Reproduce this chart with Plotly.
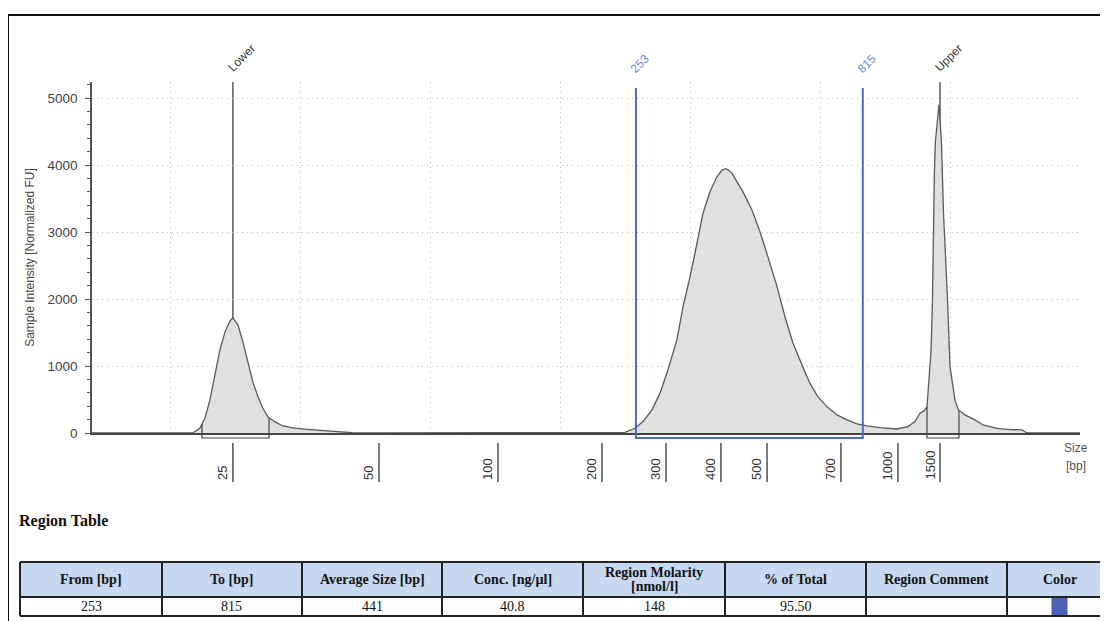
import numpy as np
import plotly.graph_objects as go

# ---------------- data ----------------
# migration position (arbitrary units, grid every 100) and sample intensity [FU]
position = [-60.8, 16.9, 22.3, 26.2, 30.0, 33.9, 37.7, 41.6, 45.4, 47.7, 51.6, 55.4, 59.3, 63.1,
            67.0, 70.8, 74.7, 80.1, 86.2, 93.9, 104.7, 117.0, 130.1, 135.5, 139.4, 153.2, 341.9,
            349.6, 357.3, 363.5, 370.4, 376.6, 382.7, 389.6, 394.3, 399.7, 405.1, 409.7, 415.1,
            420.4, 424.3, 427.4, 429.7, 432.0, 435.9, 440.5, 447.4, 453.6, 459.7, 466.7, 472.8,
            479.0, 485.9, 492.1, 498.2, 505.2, 512.9, 520.6, 528.3, 536.0, 546.0, 559.1, 567.5,
            572.9, 576.8, 579.9, 582.2, 583.7, 585.3, 586.4, 587.0, 587.8, 588.6, 591.4, 593.3,
            594.1, 594.9, 598.0, 599.9, 603.7, 606.4, 611.4, 619.1, 625.3, 636.1, 646.1, 653.8,
            655.3, 659.2, 700.0]
intensity = [0, 0, 75, 225, 490, 895, 1240, 1510, 1670, 1720, 1610, 1360, 1060, 760,
             540, 370, 240, 165, 105, 75, 55, 40, 22, 18, 5, 0, 0,
             10, 70, 170, 345, 595, 940, 1390, 1885, 2330, 2835, 3280, 3600,
             3825, 3925, 3945, 3920, 3880, 3750, 3600, 3330, 3000, 2630, 2185, 1735,
             1340, 1015, 740, 540, 390, 270, 195, 135, 105, 80, 60, 95,
             170, 295, 330, 390, 745, 1240, 1985, 3280, 3800, 4340, 4900, 4340,
             3800, 3280, 1985, 990, 490, 345, 270, 195, 120, 70, 50, 45,
             48, 0, 0]

# size ladder: bp values and their migration positions
ladder_sizes = [25, 50, 100, 200, 300, 400, 500, 700, 1000, 1500]
ladder_pos = [47.7, 160.2, 251.8, 331.9, 381.2, 423.5, 459.0, 515.9, 559.8, 592.2]
ladder_labels = [str(s) for s in ladder_sizes]

# markers
marker_names = ["Lower", "Upper"]
marker_sizes = [25, 1500]
marker_windows = [[23.9, 75.5], [582.2, 606.8]]

# region
region_from = 253
region_to = 815

# region table
table_headers = ["From [bp]", "To [bp]", "Average Size [bp]", "Conc. [ng/µl]",
                 "Region Molarity<br>[nmol/l]", "% of Total", "Region Comment", "Color"]
table_values = [str(region_from), str(region_to), "441", "40.8", "148", "95.50", "", ""]
region_color = "#4a62b8"

# ---------------- layout helpers ----------------
W, H = 1108, 621
OFF = 8  # page body margin
def fx(px):
    return (px - OFF) / W
def fy(py):
    return 1 - (py - OFF) / H

X0, X1 = 92, 1080   # plot area (screen px)
Y0, Y1 = 433, 82
XR = [-60.8, 700]
YR = [0, 5240]

FONT = "Liberation Sans, Arial, sans-serif"
SERIF = "Liberation Serif, Times New Roman, serif"
BLUE = "#4a6cc6"
BLUE_TXT = "#6a8ad8"

fig = go.Figure()
fig.add_trace(go.Scatter(x=position, y=intensity, mode="lines",
                         line=dict(color="#5a5a5a", width=1.3),
                         fill="tozeroy", fillcolor="#e0e0e0",
                         hoverinfo="skip", showlegend=False))

shapes = []
annotations = []

# outer frame
shapes.append(dict(type="rect", xref="paper", yref="paper", x0=fx(8), x1=fx(1130),
                   y0=fy(650), y1=fy(15), line=dict(color="#111", width=2), layer="above"))

# marker lines + labels
for name, s in zip(marker_names, marker_sizes):
    p = float(np.interp(s, ladder_sizes, ladder_pos))
    shapes.append(dict(type="line", xref="x", yref="paper", x0=p, x1=p,
                       y0=fy(Y0), y1=fy(Y1), line=dict(color="#333", width=1.2), layer="between"))
    annotations.append(dict(x=p, xref="x", y=fy(77), yref="paper", text=name,
                            textangle=-45, xanchor="left", yanchor="bottom", xshift=-11,
                            showarrow=False, font=dict(family=FONT, size=12, color="#333")))

# marker windows
for a, b in marker_windows:
    for p in (a, b):
        h = float(np.interp(p, position, intensity))
        shapes.append(dict(type="line", xref="x", yref="y", x0=p, x1=p, y0=0, y1=h,
                           line=dict(color="#444", width=1.2), layer="above"))
    shapes.append(dict(type="path", xref="x", yref="paper",
                       path=f"M {a},{fy(Y0)} L {a},{fy(438)} L {b},{fy(438)} L {b},{fy(Y0)}",
                       line=dict(color="#444", width=1.2), layer="above"))

# region box
ra = float(np.interp(region_from, ladder_sizes, ladder_pos))
rb = float(np.interp(region_to, ladder_sizes, ladder_pos))
shapes.append(dict(type="path", xref="x", yref="paper",
                   path=f"M {ra},{fy(88)} L {ra},{fy(438)} L {rb},{fy(438)} L {rb},{fy(88)}",
                   line=dict(color=BLUE, width=2), layer="above"))
for p, lab in ((ra, str(region_from)), (rb, str(region_to))):
    annotations.append(dict(x=p, xref="x", y=fy(79), yref="paper", text=lab,
                            textangle=-45, xanchor="left", yanchor="bottom", xshift=-11,
                            showarrow=False, font=dict(family=FONT, size=12, color=BLUE_TXT)))

# x size ticks
for p, lab in zip(ladder_pos, ladder_labels):
    shapes.append(dict(type="line", xref="x", yref="paper", x0=p, x1=p, y0=fy(443), y1=fy(482),
                       line=dict(color="#333", width=1.3)))
    annotations.append(dict(x=p, xref="x", y=fy(482), yref="paper", text=lab, textangle=-90,
                            xanchor="center", yanchor="bottom", xshift=-10, showarrow=False,
                            font=dict(family=FONT, size=13, color="#333")))

annotations.append(dict(x=fx(1076), y=fy(448), xref="paper", yref="paper", text="Size",
                        xanchor="center", yanchor="middle",
                        showarrow=False, font=dict(family=FONT, size=12, color="#555")))
annotations.append(dict(x=fx(1076), y=fy(466), xref="paper", yref="paper", text="[bp]",
                        xanchor="center", yanchor="middle",
                        showarrow=False, font=dict(family=FONT, size=12, color="#555")))

# region table
annotations.append(dict(x=fx(17), y=fy(521), xref="paper", yref="paper", xanchor="left",
                        yanchor="middle", text="<b>Region Table</b>", showarrow=False,
                        font=dict(family=SERIF, size=16, color="#111")))
col_edges = [20, 162, 302, 442, 583, 725, 866, 1007, 1112]
T_TOP, T_MID, T_BOT = 562, 597, 616
shapes.append(dict(type="rect", xref="paper", yref="paper", x0=fx(col_edges[0]), x1=fx(col_edges[-1]),
                   y0=fy(T_MID), y1=fy(T_TOP), fillcolor="#c6d9f1", line=dict(width=0), layer="below"))
for yy in (T_TOP, T_MID, T_BOT):
    shapes.append(dict(type="line", xref="paper", yref="paper", x0=fx(col_edges[0]), x1=fx(col_edges[-1]),
                       y0=fy(yy), y1=fy(yy), line=dict(color="#222", width=2)))
for xx in col_edges:
    shapes.append(dict(type="line", xref="paper", yref="paper", x0=fx(xx), x1=fx(xx),
                       y0=fy(T_BOT), y1=fy(T_TOP), line=dict(color="#222", width=2)))
for i, (hd, val) in enumerate(zip(table_headers, table_values)):
    cx = (col_edges[i] + col_edges[i + 1]) / 2
    lines = hd.split("<br>")
    n = len(lines)
    for k, ln in enumerate(lines):
        cy = (T_TOP + T_MID) / 2 + (k - (n - 1) / 2) * 14
        annotations.append(dict(x=fx(cx), y=fy(cy), xref="paper", yref="paper",
                                xanchor="center", yanchor="middle",
                                text=f"<b>{ln}</b>", showarrow=False,
                                font=dict(family=SERIF, size=14, color="#111")))
    if val:
        annotations.append(dict(x=fx(cx), y=fy((T_MID + T_BOT) / 2), xref="paper", yref="paper",
                                xanchor="center", yanchor="middle",
                                text=val, showarrow=False,
                                font=dict(family=SERIF, size=14, color="#111")))
# color swatch in "Color" column
ccx = (col_edges[-2] + col_edges[-1]) / 2
shapes.append(dict(type="rect", xref="paper", yref="paper", x0=fx(ccx - 8), x1=fx(ccx + 8),
                   y0=fy(T_BOT - 1), y1=fy(T_MID + 1), fillcolor=region_color, line=dict(width=0)))

fig.update_layout(
    width=W, height=H, margin=dict(l=0, r=0, t=0, b=0),
    paper_bgcolor="white", plot_bgcolor="white", showlegend=False,
    shapes=shapes, annotations=annotations,
    xaxis=dict(domain=[fx(X0), fx(X1)], range=XR, tickmode="linear", tick0=0, dtick=100,
               showticklabels=False, ticks="", showgrid=True, gridcolor="#bdbdbd",
               griddash="1px,4px", gridwidth=1, zeroline=False, showline=True,
               linecolor="#444", linewidth=2, automargin=False, fixedrange=True),
    yaxis=dict(domain=[fy(Y0), fy(Y1)], range=YR, tickmode="linear", tick0=0, dtick=1000,
               ticks="outside", ticklen=5, tickwidth=1.3, tickcolor="#555",
               minor=dict(dtick=200, ticks="outside", ticklen=3, tickcolor="#555", showgrid=False),
               showgrid=True, gridcolor="#bdbdbd", griddash="1px,4px", gridwidth=1,
               zeroline=False, showline=True, linecolor="#555", linewidth=1.5,
               ticklabelstandoff=5,
               tickfont=dict(family=FONT, size=13.5, color="#444"),
               title=dict(text="Sample Intensity [Normalized FU]", standoff=10,
                          font=dict(family=FONT, size=12, color="#444")),
               automargin=False, fixedrange=True),
)

fig.write_html("out.html")
